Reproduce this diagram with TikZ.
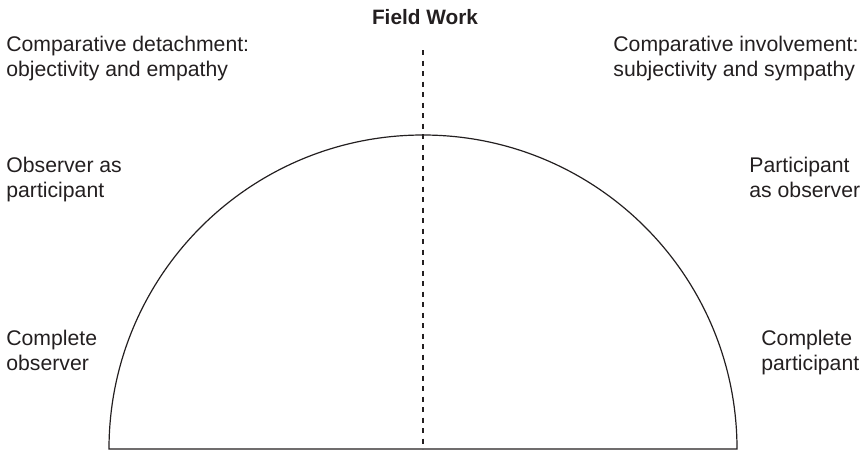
\documentclass[tikz,border=0pt]{standalone}
\usepackage{fontspec}
\setmainfont{Liberation Sans}
\usetikzlibrary{positioning}
\definecolor{ink}{HTML}{231F20}

\begin{document}
\begin{tikzpicture}[
  x=0.5pt, y=-0.5pt,
  font=\fontsize{10.6}{12.5}\selectfont,
  text=ink,
  sidetext/.style={anchor=base west, inner sep=0pt, align=left},
  heading/.style={anchor=base, inner sep=0pt, font=\fontsize{10.4}{12.5}\selectfont\bfseries},
  outline/.style={draw=ink, line width=0.6pt},
  axis/.style={draw=ink, line width=0.6pt, dash pattern=on 2.5pt off 2.75pt}
]
\useasboundingbox (0,0) rectangle (865,451);

\node[heading] (title) at (425,24) {Field Work};

% half circle standing on its diameter
\coordinate (west) at (109,449);
\coordinate (east) at (737,449);
\coordinate (centre) at (423,449);
\coordinate (axistop) at (423,50);
\draw[outline] (west) arc[start angle=180, end angle=0, radius=157pt] -- cycle;
\draw[axis] (axistop) -- (centre);

\node[sidetext] (detach) at (6,76) {Comparative detachment:\\objectivity and empathy};
\node[sidetext] (involve) at (613,76) {Comparative involvement:\\subjectivity and sympathy};
\node[sidetext] (obspart) at (6,197) {Observer as\\participant};
\node[sidetext] (partobs) at (749,197) {Participant\\as observer};
\node[sidetext] (compobs) at (6,370) {Complete\\observer};
\node[sidetext] (comppart) at (761,370) {Complete\\participant};

\end{tikzpicture}
\end{document}
